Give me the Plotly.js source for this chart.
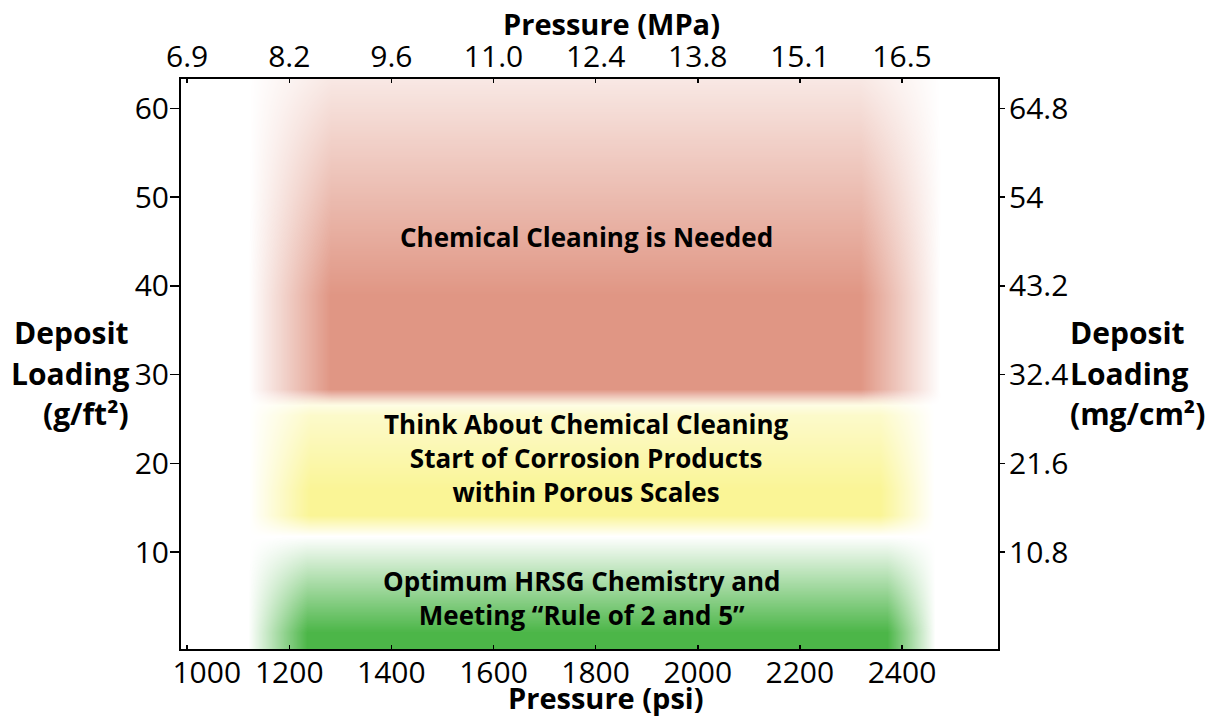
<!DOCTYPE html>
<html><head><meta charset="utf-8">
<script src="https://cdn.plot.ly/plotly-3.0.1.min.js"></script>
<style>html,body{margin:0;padding:0;background:#fff}#chart{width:1215px;height:717px}</style>
</head><body><div id="chart"></div>
<script>
// Axis ticks
const psiTicks = [1000, 1200, 1400, 1600, 1800, 2000, 2200, 2400];
const psiLabels = ['\u2007\u2007\u20091000', '1200', '1400', '1600', '1800', '2000', '2200', '2400'];
const mpaLabels = ['6.9', '8.2', '9.6', '11.0', '12.4', '13.8', '15.1', '16.5'];
const loadTicks = [10, 20, 30, 40, 50, 60];
const loadLabels = ['10', '20', '30', '40', '50', '60'];
const mgLabels = ['10.8', '21.6', '32.4', '43.2', '54', '64.8'];

// Zone fields (x = psi, y = g/ft², z = intensity)
const redX = [1120, 1280, 2318, 2475];
const redY = [26.6, 28.4, 39, 64];
const redZ = [[0, 0, 0, 0], [0, 1, 1, 0], [0, 1, 1, 0], [0, 0.2, 0.2, 0]];

const yellowX = [1120, 1240, 2357, 2462];
const yellowY = [11.8, 14.2, 17, 25.5, 27.8];
const yellowZ = [[0, 0, 0, 0], [0, 1, 1, 0], [0, 1, 1, 0], [0, 0.5, 0.5, 0], [0, 0, 0, 0]];

const greenX = [1120, 1235, 2370, 2465];
const greenY = [-1, 1, 11.8];
const greenZ = [[0, 1, 1, 0], [0, 1, 1, 0], [0, 0, 0, 0]];

// Zone labels
const zoneText = [
  'Chemical Cleaning is Needed',
  'Think About Chemical Cleaning<br>Start of Corrosion Products<br>within Porous Scales',
  'Optimum HRSG Chemistry and<br>Meeting \u201cRule of 2 and 5\u201d'
];
const zoneTextX = [1782, 1782, 1774];
const zoneTextY = [45.5, 20.6, 4.9];

function field(x, y, z, rgb) {
  return {
    type: 'heatmap', x: x, y: y, z: z, zmin: 0, zmax: 1, zsmooth: 'best',
    showscale: false, hoverinfo: 'skip',
    colorscale: [[0, 'rgba(' + rgb + ',0)'], [1, 'rgba(' + rgb + ',1)']]
  };
}

const traces = [
  field(redX, redY, redZ, '224,150,132'),
  field(yellowX, yellowY, yellowZ, '250,245,150'),
  field(greenX, greenY, greenZ, '76,182,72'),
  { type: 'scatter', x: [], y: [], xaxis: 'x2', yaxis: 'y2', showlegend: false, hoverinfo: 'skip' }
];

const tickFont = { family: 'Open Sans', size: 30, color: '#000' };
const boldFont = { family: 'Open Sans', size: 30, color: '#000', weight: 700 };
const axTitleFont = { family: 'Open Sans', size: 29, color: '#000', weight: 700 };
const zoneFont = { family: 'Open Sans', size: 26, color: '#000', weight: 700 };
const xr = [988, 2588], yr = [-0.9, 63.3];

const annotations = [];
zoneText.forEach((t, i) => annotations.push({
  x: zoneTextX[i], y: zoneTextY[i], xref: 'x', yref: 'y', text: t, showarrow: false,
  font: zoneFont, align: 'center', xanchor: 'center', yanchor: 'middle'
}));
annotations.push({ x: 0.5275, y: 1.098, xref: 'paper', yref: 'paper', text: 'Pressure (MPa)', showarrow: false, font: axTitleFont, xanchor: 'center', yanchor: 'middle' });
annotations.push({ x: 0.52, y: -0.0845, xref: 'paper', yref: 'paper', text: 'Pressure (psi)', showarrow: false, font: axTitleFont, xanchor: 'center', yanchor: 'middle' });
const leftLines = ['Deposit', 'Loading', '(g/ft\u00b2)'];
const rightLines = ['Deposit', 'Loading', '(mg/cm\u00b2)'];
const linePx = [333, 374, 414];
leftLines.forEach((t, i) => annotations.push({ x: -0.0612, y: (649 - linePx[i]) / 569, xref: 'paper', yref: 'paper', text: t, showarrow: false, font: boldFont, xanchor: 'right', yanchor: 'middle' }));
rightLines.forEach((t, i) => annotations.push({ x: 1.0855, y: (649 - linePx[i]) / 569, xref: 'paper', yref: 'paper', text: t, showarrow: false, font: boldFont, xanchor: 'left', yanchor: 'middle' }));

const layout = {
  width: 1215, height: 717,
  margin: { l: 181, r: 217, t: 79, b: 68 },
  paper_bgcolor: '#fff', plot_bgcolor: '#fff',
  font: { family: 'Open Sans', color: '#000' },
  showlegend: false,
  xaxis: {
    range: xr, tickvals: psiTicks, ticktext: psiLabels, ticks: 'inside', ticklen: 4, tickwidth: 1.5, tickcolor: '#000',
    showline: true, linewidth: 2, linecolor: '#000', mirror: true, showgrid: false, zeroline: false,
    tickfont: tickFont, ticklabelstandoff: -4, fixedrange: true
  },
  xaxis2: {
    range: xr, overlaying: 'x', side: 'top', anchor: 'y', tickvals: psiTicks, ticktext: mpaLabels, ticks: 'inside', ticklen: 4, tickwidth: 1.5, tickcolor: '#000',
    showline: false, showgrid: false, zeroline: false, tickfont: tickFont, ticklabelstandoff: 5, fixedrange: true
  },
  yaxis: {
    range: yr, tickvals: loadTicks, ticktext: loadLabels, ticks: 'outside', ticklen: 9, tickwidth: 1.5, tickcolor: '#000',
    showline: true, linewidth: 2, linecolor: '#000', mirror: true, showgrid: false, zeroline: false,
    tickfont: tickFont, ticklabelstandoff: -5, fixedrange: true
  },
  yaxis2: {
    range: yr, overlaying: 'y', side: 'right', anchor: 'x', tickvals: loadTicks, ticktext: mgLabels, ticks: 'outside', ticklen: 6, tickwidth: 1.5, tickcolor: '#000',
    showline: false, showgrid: false, zeroline: false, tickfont: tickFont, ticklabelstandoff: -2, fixedrange: true
  },
  annotations: annotations
};

Plotly.newPlot('chart', traces, layout, { staticPlot: true, displayModeBar: false });
</script></body></html>
